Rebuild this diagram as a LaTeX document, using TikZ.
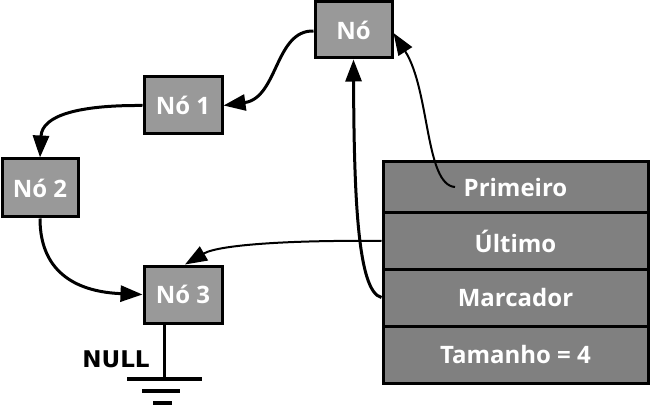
\documentclass[tikz,border=0pt]{standalone}
\usepackage{fontspec}
\setmainfont{Open Sans}
\newfontfamily\nulllabelfont{DejaVu Sans}
\usetikzlibrary{arrows.meta,calc}
\definecolor{nodegray}{HTML}{999999}
\definecolor{tabgray}{HTML}{808080}
\begin{document}
\begin{tikzpicture}[x=1pt,y=-1pt,
  listnode/.style={draw=black,line width=3pt,fill=nodegray,minimum width=77pt,minimum height=56pt,inner sep=0pt,
    text=white,font=\fontsize{24}{28}\selectfont\bfseries},
  tabrow/.style={draw=black,line width=3pt,fill=tabgray,minimum width=265pt,inner sep=0pt,
    text=white,font=\fontsize{24}{28}\selectfont\bfseries},
  link/.style={line width=3pt,-{Triangle[length=22pt,width=16pt]}},
  thinlink/.style={line width=2pt,-{Triangle[length=22pt,width=16pt]}},
  gline/.style={line width=3.5pt}]
\useasboundingbox (0,0) rectangle (654,409);
\node[listnode] (n0) at (353.5,30) {Nó};
\node[listnode,minimum width=78pt,minimum height=57pt] (n1) at (183,105.5) {Nó 1};
\node[listnode,minimum width=76pt,minimum height=58pt] (n2) at (40,188) {Nó 2};
\node[listnode,minimum width=78pt,minimum height=57pt] (n3) at (183,294.5) {Nó 3};
\node[tabrow,minimum height=51pt] (prim) at (515.5,187.5) {Primeiro};
\node[tabrow,minimum height=56pt] (ult) at (515.5,241) {Último};
\node[tabrow,minimum height=57pt] (marc) at (515.5,297.5) {Marcador};
\node[tabrow,minimum height=57pt] (tam) at (515.5,354.5) {Tamanho = 4};
\node[font=\nulllabelfont\fontsize{23}{26}\selectfont\bfseries,anchor=base,inner sep=0pt] (null) at (116,367) {NULL};
\coordinate (pstart) at (455,187);
\coordinate (gnd) at (164,379);
% connectors
\draw[link] (n0.west |- 0,31) .. controls (275,30) and (278,98) .. (n1.east);
\draw[link] (n1.west) .. controls (80,105) and (42,115) .. (n2.north);
\draw[link] (n2.south) .. controls (40,275) and (80,292) .. (n3.west);
\draw[thinlink] (ult.west) .. controls (300,240) and (220,244) .. ($(n3.north)+(2,0)$);
\draw[link] (marc.west) .. controls (358,292) and (354,200) .. (n0.south);
\draw[thinlink] (pstart) .. controls (425,185) and (430,90) .. ($(n0.east)+(0,3)$);
% ground
\draw[line width=3pt] (n3.south -| gnd) -- (gnd);
\draw[gline] (127,379) -- (202,379);
\draw[gline] (142,391) -- (180,391);
\draw[gline] (153,403) -- (172,403);
\end{tikzpicture}
\end{document}
